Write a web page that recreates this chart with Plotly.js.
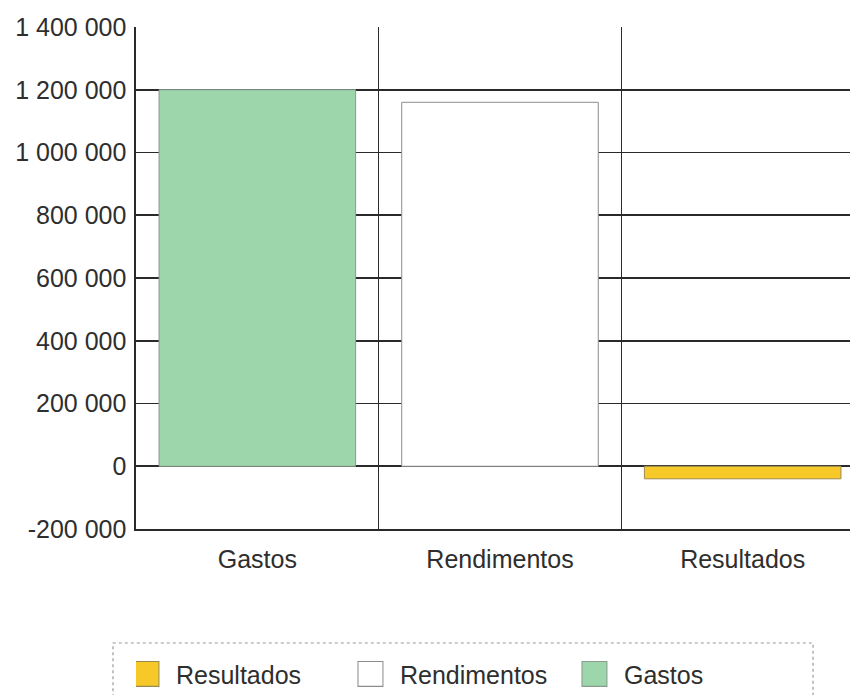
<!DOCTYPE html>
<html>
<head>
<meta charset="utf-8">
<script src="https://cdn.plot.ly/plotly-3.0.1.min.js"></script>
<style>
html,body{margin:0;padding:0;overflow:hidden;background:#fff;}
#chart{width:880px;height:695px;}
</style>
</head>
<body>
<div id="chart"></div>
<script>
var categories = ["Gastos", "Rendimentos", "Resultados"];
var gastos = [1200000, null, null];
var rendimentos = [null, 1160000, null];
var resultados = [null, null, -40000];
var yTickVals = [-200000, 0, 200000, 400000, 600000, 800000, 1000000, 1200000, 1400000];
var yTickText = ["-200 000", "0", "200 000", "400 000", "600 000", "800 000", "1 000 000", "1 200 000", "1 400 000"];

var font = "Liberation Sans, Arial, sans-serif";

var traces = [
  {type: "bar", name: "Gastos", x: categories, y: gastos, width: 0.81,
   marker: {color: "#9cd6aa", line: {color: "#8a9a8e", width: 1}}},
  {type: "bar", name: "Rendimentos", x: categories, y: rendimentos, width: 0.81,
   marker: {color: "#ffffff", line: {color: "#8c8c8c", width: 1}}},
  {type: "bar", name: "Resultados", x: categories, y: resultados, width: 0.81,
   marker: {color: "#f7c928", line: {color: "#9a8a50", width: 1}}}
];

var layout = {
  width: 880, height: 695,
  margin: {l: 136, r: 16, t: 27, b: 166},
  paper_bgcolor: "#ffffff", plot_bgcolor: "#ffffff",
  barmode: "overlay",
  showlegend: true,
  font: {family: font, size: 25, color: "#2e2e2e"},
  xaxis: {
    type: "category", range: [-0.5, 2.5],
    tickson: "boundaries", showgrid: true, gridcolor: "#2a2a2a", gridwidth: 1.6,
    ticks: "", showline: true, linecolor: "#2a2a2a", linewidth: 1.6,
    tickfont: {family: font, size: 25, color: "#2e2e2e"},
    ticklabelstandoff: 7, zeroline: false, fixedrange: true, automargin: false
  },
  yaxis: {
    range: [-200000, 1400000], tickvals: yTickVals, ticktext: yTickText,
    showgrid: true, gridcolor: "#2a2a2a", gridwidth: 1.6,
    zeroline: true, zerolinecolor: "#2a2a2a", zerolinewidth: 1.6,
    showline: true, linecolor: "#2a2a2a", linewidth: 1.6,
    ticks: "", ticklabelstandoff: 3,
    tickfont: {family: font, size: 25, color: "#2e2e2e"}, fixedrange: true, automargin: false
  },
  legend: {
    orientation: "h", traceorder: "reversed",
    xref: "container", yref: "container",
    x: 0.1545, xanchor: "left", y: 0.03, yanchor: "middle",
    entrywidth: 179, entrywidthmode: "pixels",
    bgcolor: "rgba(0,0,0,0)", borderwidth: 0,
    font: {family: font, size: 25, color: "#2e2e2e"}
  },
  shapes: [
    {type: "rect", xref: "paper", yref: "paper",
     x0: -0.0316, x1: 0.93, y0: -0.36, y1: -0.2271,
     line: {color: "#9a9a9a", width: 1.2, dash: "dot"}, fillcolor: "rgba(0,0,0,0)"}
  ]
};

Plotly.newPlot("chart", traces, layout, {displayModeBar: false, staticPlot: true}).then(function (gd) {
  var pts = gd.querySelectorAll(".legend .legendpoints path");
  pts.forEach(function (p) {
    var t = p.getAttribute("transform") || "";
    p.setAttribute("transform", t + " translate(-9.5,0) scale(2.08)");
    p.style.strokeWidth = "0.5px";
  });
});
</script>
</body>
</html>
